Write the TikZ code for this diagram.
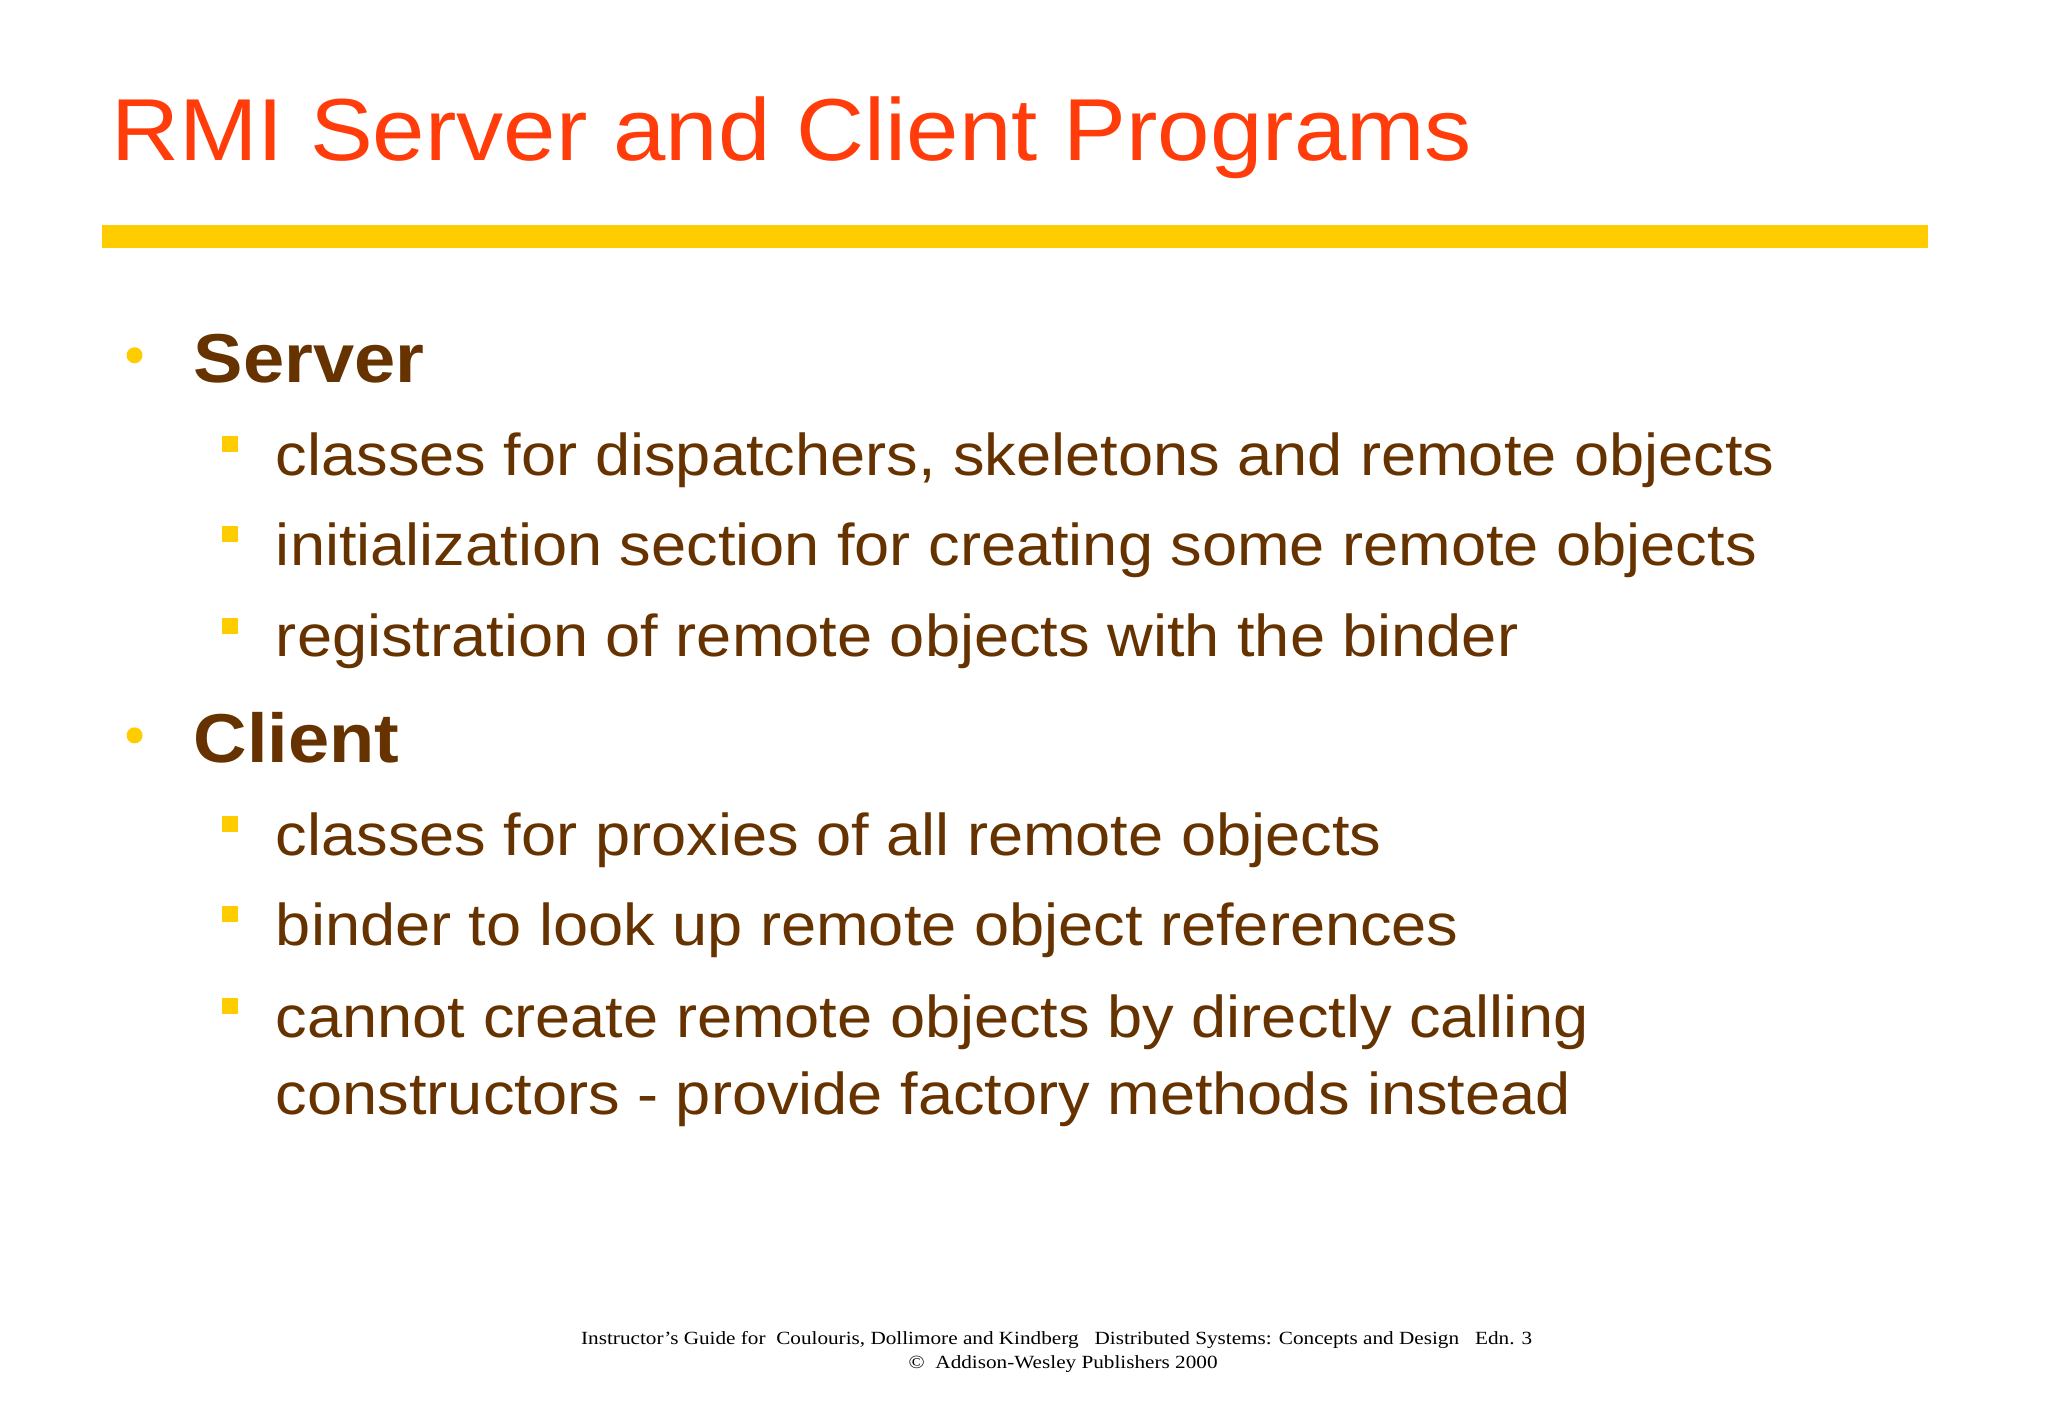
\documentclass[tikz,border=0pt]{standalone}
\usepackage{fontspec}
\setmainfont{Liberation Sans}[FakeStretch=1.07]
\newfontfamily\timesf{Liberation Serif}[FakeStretch=1.14]
\definecolor{titlec}{RGB}{255,60,10}
\definecolor{barc}{RGB}{255,204,0}
\definecolor{brownc}{RGB}{102,51,0}
\tikzset{
  head/.style={anchor=base west,inner sep=0,text=brownc,font=\fontsize{34.6}{40}\selectfont\bfseries},
  item/.style={anchor=base west,inner sep=0,text=brownc,font=\fontsize{29.5}{36}\selectfont},
  dot/.style={circle,fill=barc,inner sep=0,minimum size=8pt},
  sq/.style={rectangle,fill=barc,inner sep=0,minimum size=8pt},
  foot/.style={anchor=base,inner sep=0,font=\timesf\fontsize{9.3}{11}\selectfont}
}
\begin{document}
\begin{tikzpicture}[x=0.653pt,y=-0.653pt]
\useasboundingbox[fill=white] (0,0) rectangle (1568,1085);
\node[anchor=base west,inner sep=0,text=titlec,font=\fontsize{44}{50}\selectfont] (title) at (85,123) {RMI Server and Client Programs};
\fill[barc] (78,172) rectangle (1476,190);
\node[dot] (d1) at (103,272) {};
\node[head] (server) at (148,293) {Server};
\node[sq] (s1) at (176,340) {};
\node[item] (t1) at (211,364) {classes for dispatchers, skeletons and remote objects};
\node[sq] (s2) at (176,409) {};
\node[item] (t2) at (211,433) {initialization section for creating some remote objects};
\node[sq] (s3) at (176,479) {};
\node[item] (t3) at (211,503) {registration of remote objects with the binder};
\node[dot] (d2) at (103,563) {};
\node[head] (client) at (148,584) {Client};
\node[sq] (s4) at (176,631) {};
\node[item] (t4) at (211,655) {classes for proxies of all remote objects};
\node[sq] (s5) at (176,700) {};
\node[item] (t5) at (211,724) {binder to look up remote object references};
\node[sq] (s6) at (176,770) {};
\node[item] (t6) at (211,794) {cannot create remote objects by directly calling};
\node[item] (t7) at (211,853) {constructors - provide factory methods instead};
\node[foot] (f1) at (809,1029) {Instructor’s Guide for\ \ Coulouris, Dollimore and Kindberg\ \ \ Distributed Systems: Concepts and Design\ \ \ Edn. 3};
\node[foot] (f2) at (814,1048) {©\ \ Addison-Wesley Publishers 2000};
\end{tikzpicture}
\end{document}
